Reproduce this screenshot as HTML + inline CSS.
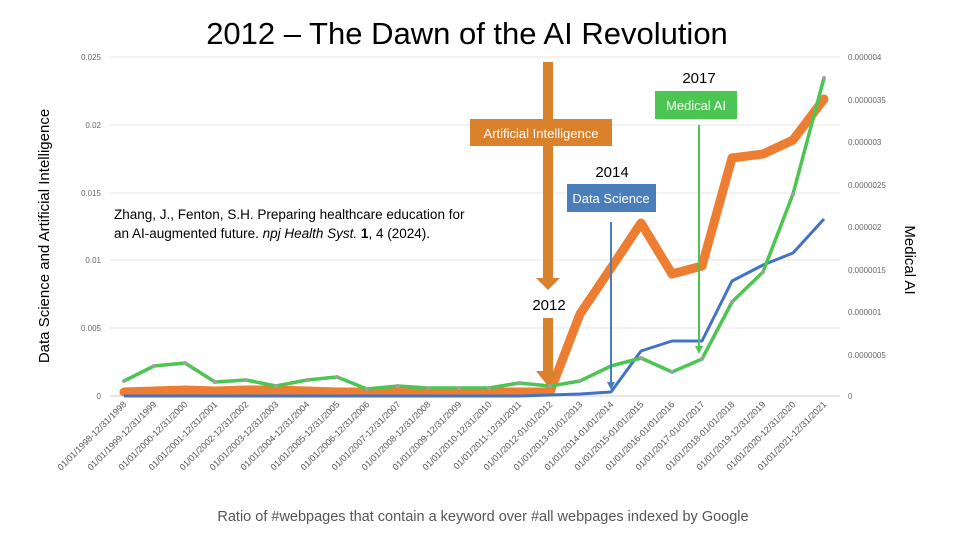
<!DOCTYPE html>
<html><head><meta charset="utf-8"><style>
body{margin:0;background:#fff;}
svg{display:block;font-family:"Liberation Sans",Arial,sans-serif;}
</style></head><body>
<svg width="960" height="540" viewBox="0 0 960 540">
<rect width="960" height="540" fill="#fff"/>
<text x="467" y="44" font-size="31" text-anchor="middle" fill="#000">2012 – The Dawn of the AI Revolution</text>
<g stroke="#e6e6e6" stroke-width="1">
<line x1="110" x2="840" y1="57" y2="57"/><line x1="110" x2="840" y1="125" y2="125"/>
<line x1="110" x2="840" y1="193" y2="193"/><line x1="110" x2="840" y1="260" y2="260"/>
<line x1="110" x2="840" y1="328" y2="328"/><line x1="110" x2="840" y1="396" y2="396" stroke="#ccd"/>
</g>
<g font-size="8" fill="#666" text-anchor="end">
<text x="101" y="60">0.025</text><text x="101" y="128">0.02</text><text x="101" y="196">0.015</text>
<text x="101" y="263">0.01</text><text x="101" y="331">0.005</text><text x="101" y="399">0</text>
</g>
<g font-size="8" fill="#666">
<text x="848" y="60">0.000004</text><text x="848" y="103">0.0000035</text><text x="848" y="145">0.000003</text>
<text x="848" y="188">0.0000025</text><text x="848" y="230">0.000002</text><text x="848" y="273">0.0000015</text>
<text x="848" y="315">0.000001</text><text x="848" y="358">0.0000005</text><text x="848" y="399">0</text>
</g>
<text transform="translate(49,236) rotate(-90)" font-size="15" text-anchor="middle">Data Science and Artificial Intelligence</text>
<text transform="translate(905,260) rotate(90)" font-size="15" text-anchor="middle">Medical AI</text>
<text x="114" y="219" font-size="13.5">Zhang, J., Fenton, S.H. Preparing healthcare education for</text>
<text x="114" y="238" font-size="13.5">an AI-augmented future. <tspan font-style="italic">npj Health Syst.</tspan> <tspan font-weight="bold">1</tspan>, 4 (2024).</text>
<polyline fill="none" stroke="#ed7d31" stroke-width="9" stroke-linejoin="round" stroke-linecap="round" points="124,392 154,391 185,390 215,391 246,390 276,390 307,391 337,392 367,392 398,392 428,392 459,392 489,392 519,392 550,392 580,314 611,268 641,223 672,274 702,266 732,158 763,154 793,140 824,99"/>
<polyline fill="none" stroke="#4472c4" stroke-width="3" stroke-linejoin="round" points="124,396 154,396 185,396 215,396 246,396 276,396 307,396 337,396 367,396 398,396 428,396 459,396 489,396 519,396 550,395 580,394 611,392 641,351 672,341 702,341 732,281 763,265 793,253 824,219"/>
<polyline fill="none" stroke="#4cc552" stroke-width="3.5" stroke-linejoin="round" points="124,381 154,366 185,363 215,382 246,380 276,386 307,380 337,377 367,389 398,386 428,388 459,388 489,388 519,383 550,386 580,381 611,366 641,358 672,372 702,359 732,302 763,272 793,194 824,78"/>
<g fill="#a0a0a0">
<circle cx="124" cy="381" r="2"/><circle cx="154" cy="366" r="2"/><circle cx="185" cy="363" r="2"/><circle cx="215" cy="382" r="2"/><circle cx="246" cy="380" r="2"/><circle cx="276" cy="386" r="2"/><circle cx="307" cy="380" r="2"/><circle cx="337" cy="377" r="2"/><circle cx="367" cy="389" r="2"/><circle cx="398" cy="386" r="2"/><circle cx="428" cy="388" r="2"/><circle cx="459" cy="388" r="2"/><circle cx="489" cy="388" r="2"/><circle cx="519" cy="383" r="2"/><circle cx="550" cy="386" r="2"/><circle cx="580" cy="381" r="2"/><circle cx="641" cy="358" r="2"/><circle cx="672" cy="372" r="2"/><circle cx="702" cy="359" r="2"/><circle cx="732" cy="302" r="2"/><circle cx="763" cy="272" r="2"/><circle cx="793" cy="194" r="2"/><circle cx="824" cy="78" r="2"/>
</g>
<rect x="543" y="62" width="10" height="218" fill="#d9822b"/>
<polygon points="536,278 560,278 548,290" fill="#d9822b"/>
<rect x="543" y="318" width="10" height="55" fill="#d9822b"/>
<polygon points="536,371 560,371 548,386" fill="#d9822b"/>
<rect x="470" y="119" width="142" height="27" fill="#d9822b"/>
<text x="541" y="138" font-size="13" fill="#fff" text-anchor="middle">Artificial Intelligence</text>
<text x="549" y="310" font-size="15" text-anchor="middle">2012</text>
<text x="612" y="177" font-size="15" text-anchor="middle">2014</text>
<rect x="567" y="184" width="89" height="28" fill="#4a7ebb"/>
<text x="611" y="203" font-size="13" fill="#fff" text-anchor="middle">Data Science</text>
<line x1="611" y1="222" x2="611" y2="384" stroke="#4a7ebb" stroke-width="2"/>
<polygon points="607,382 615,382 611,390" fill="#4a7ebb"/>
<text x="699" y="83" font-size="15" text-anchor="middle">2017</text>
<rect x="655" y="91" width="82" height="28" fill="#4cc552"/>
<text x="696" y="110" font-size="13" fill="#fff" text-anchor="middle">Medical AI</text>
<line x1="699" y1="125" x2="699" y2="348" stroke="#4cc552" stroke-width="2"/>
<polygon points="695,346 703,346 699,354" fill="#4cc552"/>
<g font-size="9" fill="#555" text-anchor="end">
<text transform="translate(127,405) rotate(-45)">01/01/1998-12/31/1998</text>
<text transform="translate(157,405) rotate(-45)">01/01/1999-12/31/1999</text>
<text transform="translate(188,405) rotate(-45)">01/01/2000-12/31/2000</text>
<text transform="translate(218,405) rotate(-45)">01/01/2001-12/31/2001</text>
<text transform="translate(249,405) rotate(-45)">01/01/2002-12/31/2002</text>
<text transform="translate(279,405) rotate(-45)">01/01/2003-12/31/2003</text>
<text transform="translate(310,405) rotate(-45)">01/01/2004-12/31/2004</text>
<text transform="translate(340,405) rotate(-45)">01/01/2005-12/31/2005</text>
<text transform="translate(370,405) rotate(-45)">01/01/2006-12/31/2006</text>
<text transform="translate(401,405) rotate(-45)">01/01/2007-12/31/2007</text>
<text transform="translate(431,405) rotate(-45)">01/01/2008-12/31/2008</text>
<text transform="translate(462,405) rotate(-45)">01/01/2009-12/31/2009</text>
<text transform="translate(492,405) rotate(-45)">01/01/2010-12/31/2010</text>
<text transform="translate(522,405) rotate(-45)">01/01/2011-12/31/2011</text>
<text transform="translate(553,405) rotate(-45)">01/01/2012-01/01/2012</text>
<text transform="translate(583,405) rotate(-45)">01/01/2013-01/01/2013</text>
<text transform="translate(614,405) rotate(-45)">01/01/2014-01/01/2014</text>
<text transform="translate(644,405) rotate(-45)">01/01/2015-01/01/2015</text>
<text transform="translate(675,405) rotate(-45)">01/01/2016-01/01/2016</text>
<text transform="translate(705,405) rotate(-45)">01/01/2017-01/01/2017</text>
<text transform="translate(735,405) rotate(-45)">01/01/2018-01/01/2018</text>
<text transform="translate(766,405) rotate(-45)">01/01/2019-12/31/2019</text>
<text transform="translate(796,405) rotate(-45)">01/01/2020-12/31/2020</text>
<text transform="translate(827,405) rotate(-45)">01/01/2021-12/31/2021</text>
</g>
<text x="483" y="521" font-size="14.5" fill="#555" text-anchor="middle">Ratio of #webpages that contain a keyword over #all webpages indexed by Google</text>
</svg>
</body></html>
